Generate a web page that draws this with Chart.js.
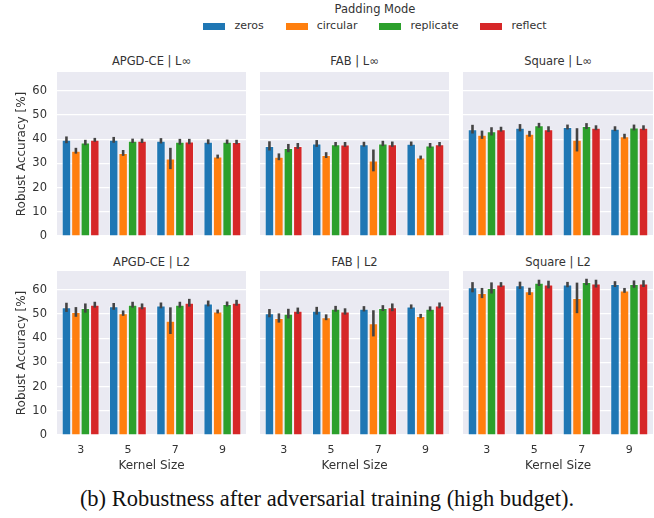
<!DOCTYPE html>
<html>
<head>
<meta charset="utf-8">
<script src="https://cdn.jsdelivr.net/npm/chart.js@4/dist/chart.umd.min.js"></script>
<style>
  body { margin: 0; background: #fff; }
  #wrap { position: relative; width: 654px; height: 518px; overflow: hidden; font-family: "DejaVu Sans", sans-serif; color: #333; }
  .ptitle { position: absolute; text-align: center; font-size: 11.5px; line-height: 14px; white-space: nowrap; }
  #legendTitle { position: absolute; left: 0; top: 2px; width: 750px; text-align: center; font-size: 11.5px; line-height: 14px; }
  #legend { position: absolute; left: 0; top: 19px; width: 750px; display: flex; justify-content: center; font-size: 11px; line-height: 14px; }
  .item { display: flex; align-items: center; margin: 0 11px; }
  .box { width: 22px; height: 7px; margin-right: 9px; }
  #caption { position: absolute; left: 0; top: 486px; width: 654px; text-align: center; font-family: "Liberation Serif", serif; font-size: 22.5px; line-height: 26px; color: #111; white-space: nowrap; }
</style>
</head>
<body>
<div id="wrap">
  <div id="legendTitle">Padding Mode</div>
  <div id="legend"></div>
  <div id="caption">(b) Robustness after adversarial training (high budget).</div>
</div>
<script>
// Categories and series
const kernels = ['3', '5', '7', '9'];
const modes = ['zeros', 'circular', 'replicate', 'reflect'];
const modeColors = ['#1f77b4', '#ff7f0e', '#2ca02c', '#d62728'];
const yMax = 67.7;

// Robust accuracy [%], one row per padding mode (zeros, circular, replicate, reflect)
const apgdLinf = [
    [39.7, 39.7, 39.3, 38.9],
    [35.2, 34.3, 32.0, 32.8],
    [38.6, 39.3, 38.9, 38.9],
    [39.7, 39.3, 39.0, 38.8]
];
const apgdLinfErr = [
    [1.4, 1.2, 1.1, 1.0],
    [1.2, 1.2, 4.4, 0.8],
    [1.1, 0.9, 1.2, 0.9],
    [0.8, 0.9, 1.1, 0.9]
];
const fabLinf = [
    [37.2, 38.2, 37.9, 38.1],
    [32.7, 33.4, 31.2, 32.4],
    [36.3, 37.9, 38.2, 37.4],
    [37.2, 37.8, 37.9, 37.9]
];
const fabLinfErr = [
    [1.9, 1.4, 1.0, 0.9],
    [1.4, 1.2, 4.5, 0.8],
    [1.7, 0.9, 1.1, 1.0],
    [1.2, 1.0, 1.1, 0.9]
];
const squareLinf = [
    [44.1, 44.7, 45.0, 44.3],
    [41.8, 42.2, 39.7, 41.2],
    [43.2, 45.7, 45.4, 44.8],
    [44.1, 44.1, 44.7, 44.7]
];
const squareLinfErr = [
    [1.8, 1.5, 1.0, 1.0],
    [1.7, 1.2, 4.8, 1.0],
    [1.7, 1.0, 1.2, 1.2],
    [1.0, 1.2, 1.0, 1.0]
];
const apgdL2 = [
    [52.7, 53.1, 53.5, 54.3],
    [50.8, 50.3, 47.2, 51.0],
    [52.4, 53.8, 53.8, 54.1],
    [53.8, 53.1, 54.6, 54.6]
];
const apgdL2Err = [
    [1.9, 1.4, 1.2, 1.2],
    [2.0, 1.1, 5.5, 0.8],
    [1.9, 1.2, 1.2, 1.0],
    [1.2, 1.2, 1.6, 1.2]
];
const fabL2 = [
    [50.3, 51.3, 52.1, 53.0],
    [48.3, 48.6, 46.1, 49.1],
    [50.1, 52.1, 52.4, 52.1],
    [51.3, 51.0, 52.7, 53.5]
];
const fabL2Err = [
    [1.7, 1.6, 1.1, 0.9],
    [1.9, 1.2, 5.4, 0.9],
    [2.0, 1.2, 1.2, 1.0],
    [1.3, 1.3, 1.6, 1.2]
];
const squareL2 = [
    [61.0, 61.8, 62.1, 62.3],
    [58.6, 59.3, 56.6, 59.7],
    [60.7, 62.8, 63.2, 62.3],
    [62.1, 62.1, 62.5, 62.5]
];
const squareL2Err = [
    [2.1, 1.5, 1.1, 1.2],
    [2.1, 1.5, 6.3, 1.0],
    [2.3, 1.3, 1.3, 1.5],
    [1.0, 1.6, 1.6, 1.4]
];

const panels = [
    { title: 'APGD-CE | L∞', mean: apgdLinf, err: apgdLinfErr, row: 0, col: 0 },
    { title: 'FAB | L∞', mean: fabLinf, err: fabLinfErr, row: 0, col: 1 },
    { title: 'Square | L∞', mean: squareLinf, err: squareLinfErr, row: 0, col: 2 },
    { title: 'APGD-CE | L2', mean: apgdL2, err: apgdL2Err, row: 1, col: 0 },
    { title: 'FAB | L2', mean: fabL2, err: fabL2Err, row: 1, col: 1 },
    { title: 'Square | L2', mean: squareL2, err: squareL2Err, row: 1, col: 2 }
];

// Layout of the grid (plot areas)
const colLeft = [57, 260, 463];
const colWidth = [189, 189, 190];
const rowTop = [72, 271];
const titleTop = [54, 255];
const plotH = 164;
const padTop = 18;
const textColor = '#333';
const wrap = document.getElementById('wrap');

// Legend
const legend = document.getElementById('legend');
modes.forEach((m, i) => {
    const item = document.createElement('div');
    item.className = 'item';
    item.innerHTML = `<span class="box" style="background:${modeColors[i]}"></span><span>${m}</span>`;
    legend.appendChild(item);
});

// Grey plot background (seaborn darkgrid)
const bgPlugin = {
    id: 'bg',
    beforeDraw(chart) {
        const { ctx, chartArea: a } = chart;
        ctx.save();
        ctx.fillStyle = '#eaeaf2';
        ctx.fillRect(a.left, a.top, a.width, a.height);
        ctx.restore();
    }
};

// Error bars drawn on top of each bar
const errPlugin = {
    id: 'errbars',
    afterDatasetsDraw(chart) {
        const ctx = chart.ctx;
        const y = chart.scales.y;
        ctx.save();
        ctx.strokeStyle = '#444';
        ctx.lineWidth = 2.6;
        chart.data.datasets.forEach((ds, i) => {
            chart.getDatasetMeta(i).data.forEach((bar, j) => {
                const v = ds.data[j], e = ds.err[j];
                ctx.beginPath();
                ctx.moveTo(bar.x, y.getPixelForValue(v - e));
                ctx.lineTo(bar.x, y.getPixelForValue(v + e));
                ctx.stroke();
            });
        });
        ctx.restore();
    }
};

function makePanel(p) {
    const first = p.col === 0;
    const bottom = p.row === 1;
    const yAxisW = first ? 57 : 0;
    const xAxisH = bottom ? 40 : 18;
    const w = colWidth[p.col] + yAxisW;
    const h = padTop + plotH + xAxisH;

    const t = document.createElement('div');
    t.className = 'ptitle';
    t.style.left = colLeft[p.col] + 'px';
    t.style.width = colWidth[p.col] + 'px';
    t.style.top = titleTop[p.row] + 'px';
    t.textContent = p.title;
    wrap.appendChild(t);

    const canvas = document.createElement('canvas');
    canvas.width = w;
    canvas.height = h;
    canvas.style.cssText = `position:absolute;left:${colLeft[p.col] - yAxisW}px;top:${rowTop[p.row] - padTop}px;width:${w}px;height:${h}px`;
    wrap.appendChild(canvas);

    new Chart(canvas, {
        type: 'bar',
        data: {
            labels: kernels,
            datasets: modes.map((m, i) => ({
                label: m,
                data: p.mean[i],
                err: p.err[i],
                backgroundColor: modeColors[i],
                borderColor: 'rgba(255,255,255,0.45)',
                borderWidth: 1,
                categoryPercentage: 0.8,
                barPercentage: 1.0
            }))
        },
        options: {
            responsive: false,
            animation: false,
            devicePixelRatio: 1,
            layout: { padding: { top: padTop, left: 0, right: 0, bottom: 0 } },
            plugins: { legend: { display: false }, tooltip: { enabled: false } },
            scales: {
                x: {
                    grid: { display: false, drawTicks: false },
                    border: { display: false },
                    ticks: { display: bottom, color: textColor, padding: 9, font: { family: 'DejaVu Sans', size: 11 } },
                    title: { display: bottom, text: 'Kernel Size', color: textColor, padding: { top: 0, bottom: 2 }, font: { family: 'DejaVu Sans', size: 12 } },
                    afterFit: s => { s.height = xAxisH; }
                },
                y: {
                    min: 0,
                    max: yMax,
                    grid: { color: '#ffffff', lineWidth: 1.2, drawTicks: false },
                    border: { display: false },
                    ticks: { display: first, stepSize: 10, includeBounds: false, padding: 10, color: textColor, font: { family: 'DejaVu Sans', size: 11.5 } },
                    title: { display: first, text: 'Robust Accuracy [%]', color: textColor, padding: { top: 15, bottom: 0 }, font: { family: 'DejaVu Sans', size: 12 } },
                    afterFit: s => { s.width = yAxisW; }
                }
            }
        },
        plugins: [bgPlugin, errPlugin]
    });
}

panels.forEach(makePanel);
</script>
</body>
</html>
